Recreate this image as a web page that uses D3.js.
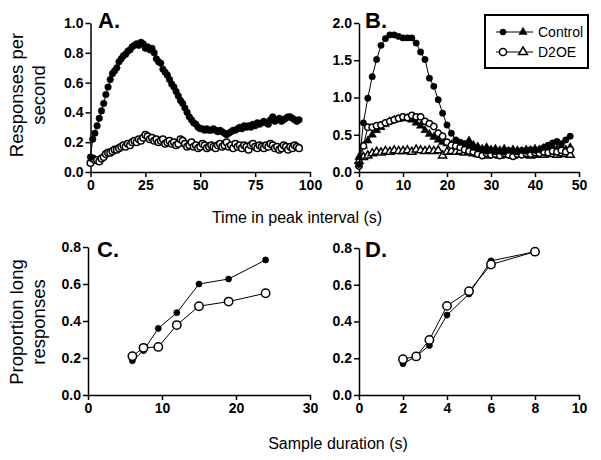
<!DOCTYPE html>
<html>
<head>
<meta charset="utf-8">
<script src="https://cdn.jsdelivr.net/npm/d3@7"></script>
<style>
body{margin:0;background:#fff}
svg{display:block}
.tick text{font-family:Arial,"Liberation Sans",sans-serif;font-weight:bold;font-size:14px;fill:#000}
.title{font-family:Arial,"Liberation Sans",sans-serif;font-size:16px;fill:#000}
.ytitle{font-family:Arial,"Liberation Sans",sans-serif;font-size:18.5px;fill:#000}
.plab{font-family:Arial,"Liberation Sans",sans-serif;font-weight:bold;font-size:22px;fill:#000}
</style>
</head>
<body>
<div id="chart"></div>
<script>
// panel A: 1-s bins, 0..95 s
const timeA=d3.range(96)
const ctrlA=[0.10,0.22,0.26,0.31,0.36,0.41,0.46,0.52,0.57,0.62,0.66,0.68,0.70,0.74,0.76,0.78,0.79,0.81,0.82,0.84,
0.85,0.86,0.85,0.87,0.86,0.83,0.84,0.82,0.83,0.80,0.76,0.74,0.73,0.69,0.67,0.65,0.62,0.59,0.57,0.54,
0.51,0.48,0.46,0.43,0.40,0.37,0.35,0.33,0.32,0.30,0.29,0.29,0.28,0.29,0.28,0.28,0.29,0.28,0.27,0.28,
0.27,0.26,0.25,0.26,0.27,0.28,0.28,0.29,0.30,0.29,0.31,0.30,0.31,0.30,0.32,0.31,0.33,0.32,0.33,0.34,
0.33,0.32,0.35,0.37,0.34,0.35,0.36,0.34,0.35,0.36,0.37,0.37,0.36,0.35,0.34,0.35]
const d2oeA=[0.06,0.09,0.08,0.08,0.07,0.09,0.10,0.12,0.13,0.13,0.14,0.15,0.15,0.16,0.17,0.18,0.17,0.19,0.18,0.20,
0.21,0.20,0.22,0.21,0.23,0.25,0.24,0.22,0.23,0.21,0.22,0.20,0.21,0.22,0.19,0.20,0.21,0.19,0.20,0.18,
0.19,0.22,0.21,0.19,0.17,0.18,0.20,0.17,0.18,0.16,0.17,0.19,0.18,0.16,0.17,0.18,0.17,0.16,0.18,0.19,
0.17,0.18,0.20,0.17,0.18,0.16,0.19,0.17,0.18,0.16,0.18,0.17,0.15,0.18,0.19,0.17,0.16,0.18,0.17,0.16,
0.18,0.17,0.19,0.18,0.16,0.17,0.15,0.16,0.18,0.17,0.15,0.17,0.16,0.18,0.17,0.16]

// panel B: 1-s bins, 0..48 s
const timeB=d3.range(49)
const ctrlCircB=[0.10,0.66,0.99,1.28,1.51,1.70,1.79,1.84,1.84,1.82,1.80,1.80,1.80,1.73,1.61,1.51,1.26,1.15,0.97,0.79,
0.63,0.52,0.43,0.40,0.38,0.36,0.33,0.31,0.30,0.28,0.29,0.27,0.28,0.27,0.29,0.28,0.27,0.29,0.28,0.30,
0.29,0.30,0.33,0.36,0.39,0.41,0.38,0.43,0.48]
const ctrlTriB=[0.20,0.35,0.42,0.50,0.56,0.60,0.64,0.68,0.70,0.71,0.72,0.72,0.70,0.66,0.62,0.56,0.51,0.47,0.43,0.40,
0.38,0.37,0.40,0.38,0.36,0.42,0.36,0.34,0.31,0.33,0.30,0.31,0.29,0.31,0.28,0.30,0.29,0.28,0.30,0.29,
0.31,0.30,0.32,0.30,0.33,0.31,0.34,0.30,0.33]
const d2oeCircB=[0.08,0.35,0.60,0.60,0.62,0.63,0.66,0.68,0.70,0.72,0.74,0.73,0.76,0.74,0.74,0.68,0.65,0.61,0.52,0.48,
0.40,0.36,0.35,0.33,0.30,0.28,0.27,0.24,0.22,0.25,0.23,0.24,0.22,0.25,0.23,0.21,0.24,0.23,0.25,0.24,
0.26,0.25,0.27,0.26,0.28,0.27,0.29,0.27,0.30]
const d2oeTriB=[0.15,0.20,0.22,0.25,0.27,0.26,0.28,0.27,0.29,0.28,0.28,0.29,0.27,0.30,0.29,0.28,0.29,0.28,0.29,0.22,
0.27,0.28,0.27,0.28,0.26,0.27,0.25,0.24,0.23,0.22,0.24,0.23,0.22,0.23,0.24,0.22,0.23,0.24,0.23,0.22,
0.23,0.24,0.23,0.25,0.24,0.23,0.25,0.24,0.23]

// panel C and D: sample durations
const durC=[6,7.5,9.5,12,15,19,24]
const ctrlC=[0.185,0.24,0.36,0.445,0.60,0.627,0.73]
const d2oeC=[0.21,0.255,0.26,0.378,0.48,0.505,0.55]
const durD=[2,2.6,3.2,4,5,6,8]
const ctrlD=[0.17,0.21,0.27,0.435,0.55,0.73,0.78]
const d2oeD=[0.195,0.21,0.30,0.485,0.565,0.71,0.78]

const ticksA=[0,25,50,75,100], ticksAy=[0,0.2,0.4,0.6,0.8,1.0]
const ticksB=[0,10,20,30,40,50], ticksBy=[0,0.5,1.0,1.5,2.0]
const ticksC=[0,10,20,30], ticksD=[0,2,4,6,8,10], ticksCy=[0,0.2,0.4,0.6,0.8]

const svg=d3.select("#chart").append("svg")
.attr("width",601)
.attr("height",460)

function panel(p){
const x=d3.scaleLinear().domain(p.xd).range(p.xr)
const y=d3.scaleLinear().domain(p.yd).range(p.yr)
const g=svg.append("g")

g.append("g")
.attr("transform","translate(0,"+p.yr[0]+")")
.call(d3.axisBottom(x).tickValues(p.xt).tickFormat(d3.format("d")).tickSize(5).tickSizeOuter(0).tickPadding(3))
g.append("g")
.attr("transform","translate("+p.xr[0]+",0)")
.call(d3.axisLeft(y).tickValues(p.yt).tickFormat(d3.format(".1f")).tickSize(5).tickSizeOuter(0).tickPadding(2))
g.selectAll(".domain").attr("stroke","#000").attr("stroke-width",1.5)
g.selectAll(".tick line").attr("stroke","#000").attr("stroke-width",1.5)

g.append("text").attr("class","plab")
.attr("x",p.lab[1]).attr("y",p.lab[2]).text(p.lab[0])

p.series.forEach(s=>{
const pts=s.xs.map((v,i)=>[x(v),y(s.ys[i])])
g.append("path")
.attr("d",d3.line()(pts))
.attr("fill","none").attr("stroke","#000").attr("stroke-width",1)
const sym=d3.symbol().type(s.shape==="tri"?d3.symbolTriangle:d3.symbolCircle).size(s.size)
g.selectAll(null).data(pts).enter().append("path")
.attr("transform",d=>"translate("+d[0]+","+d[1]+")")
.attr("d",sym)
.attr("fill",s.open?"#fff":"#000")
.attr("stroke","#000")
.attr("stroke-width",s.open?1.5:0.5)
})
}

panel({xd:[0,100],xr:[90.5,310],yd:[0,1],yr:[172,23],xt:ticksA,yt:ticksAy,lab:["A.",98,28],
series:[
{xs:timeA,ys:d2oeA,shape:"circ",open:true,size:34},
{xs:timeA,ys:ctrlA,shape:"circ",open:false,size:34}
]})

panel({xd:[0,50],xr:[359,579],yd:[0,2],yr:[172,23],xt:ticksB,yt:ticksBy,lab:["B.",365,28],
series:[
{xs:timeB,ys:d2oeTriB,shape:"tri",open:true,size:28},
{xs:timeB,ys:ctrlTriB,shape:"tri",open:false,size:30},
{xs:timeB,ys:d2oeCircB,shape:"circ",open:true,size:32},
{xs:timeB,ys:ctrlCircB,shape:"circ",open:false,size:32}
]})

panel({xd:[0,30],xr:[88,310],yd:[0,0.8],yr:[395,247],xt:ticksC,yt:ticksCy,lab:["C.",97,257],
series:[
{xs:durC,ys:ctrlC,shape:"circ",open:false,size:30},
{xs:durC,ys:d2oeC,shape:"circ",open:true,size:55}
]})

panel({xd:[0,10],xr:[359,579],yd:[0,0.8],yr:[395,248],xt:ticksD,yt:ticksCy,lab:["D.",365,257],
series:[
{xs:durD,ys:ctrlD,shape:"circ",open:false,size:30},
{xs:durD,ys:d2oeD,shape:"circ",open:true,size:55}
]})

// axis titles
svg.append("text").attr("class","title").attr("x",297).attr("y",223).attr("text-anchor","middle").text("Time in peak interval (s)")
svg.append("text").attr("class","title").attr("x",338).attr("y",449).attr("text-anchor","middle").text("Sample duration (s)")

function ytitle(lines,cy){
const t=svg.append("text").attr("class","ytitle").attr("text-anchor","middle")
.attr("transform","translate(0,"+cy+") rotate(-90)")
lines.forEach((l,i)=>t.append("tspan").attr("x",0).attr("y",23+i*22).text(l))
}
ytitle(["Responses per","second"],95)
ytitle(["Proportion long","responses"],322)

// legend
const leg=svg.append("g")
leg.append("rect").attr("x",485).attr("y",15).attr("width",103).attr("height",53)
.attr("fill","#fff").attr("stroke","#000").attr("stroke-width",2)
const legItems=[{name:"Control",open:false,y:32},{name:"D2OE",open:true,y:52}]
legItems.forEach(d=>{
leg.append("line").attr("x1",496).attr("x2",533).attr("y1",d.y).attr("y2",d.y).attr("stroke","#000").attr("stroke-width",1)
leg.append("path").attr("transform","translate(503,"+d.y+")").attr("d",d3.symbol().type(d3.symbolCircle).size(d.open?40:30))
.attr("fill",d.open?"#fff":"#000").attr("stroke","#000").attr("stroke-width",d.open?1.5:0.5)
leg.append("path").attr("transform","translate(523,"+d.y+")").attr("d",d3.symbol().type(d3.symbolTriangle).size(d.open?34:30))
.attr("fill",d.open?"#fff":"#000").attr("stroke","#000").attr("stroke-width",d.open?1.5:0.5)
leg.append("text").attr("class","title").style("font-size","14px").attr("x",538).attr("y",d.y+5).text(d.name)
})
</script>
</body>
</html>
